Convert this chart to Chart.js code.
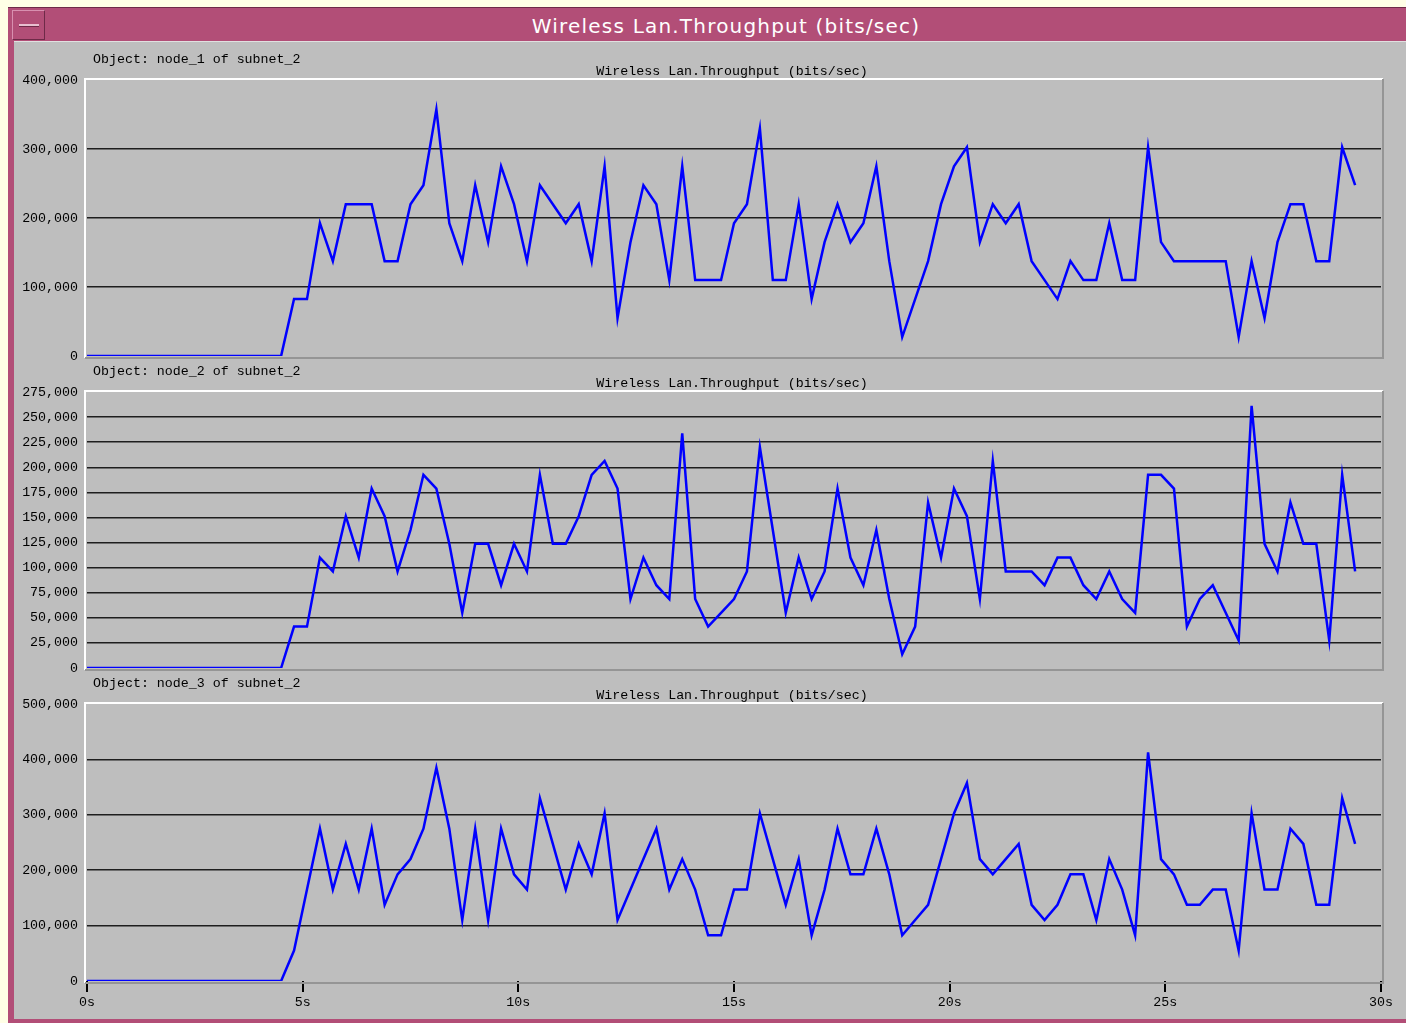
<!DOCTYPE html>
<html>
<head>
<meta charset="utf-8">
<title>Wireless Lan.Throughput (bits/sec)</title>
<script src="https://cdn.jsdelivr.net/npm/chart.js@4.4.1/dist/chart.umd.min.js"></script>
<style>
body { margin:0; width:1406px; height:1023px; overflow:hidden; background:#ffffe6; position:relative; }
#janela { position:absolute; left:8px; top:7px; width:1420px; height:1016px; background:#b24e77; border-top:1px solid #6e2a48; }
#conteudo { position:absolute; left:14px; top:41px; width:1392px; height:977px; background:#bebebe; border-top:1px solid #e0e0e0; }
#botao { position:absolute; left:12px; top:10px; width:31px; height:28px; border:1px solid #d890b0; border-right-color:#6e2a48; border-bottom-color:#6e2a48; }
#botao div { position:absolute; left:6px; top:13px; width:20px; height:2px; background:#e8bfd0; border-bottom:1px solid #6e2a48; }
#titulo { position:absolute; left:0; top:11px; width:1452px; height:30px; line-height:30px; text-align:center; color:#fff; font-family:'DejaVu Sans', sans-serif; font-size:20px; letter-spacing:1.2px; }
.texto { position:absolute; font-family:'Liberation Mono', monospace; font-size:13.3px; line-height:14px; color:#000; white-space:pre; }
.centro { left:0; width:1464px; text-align:center; }
canvas { position:absolute; left:0; }
</style>
</head>
<body>
<div id="janela"></div>
<div id="botao"><div></div></div>
<div id="titulo">Wireless Lan.Throughput (bits/sec)</div>
<div id="conteudo"></div>

<canvas id="graficoNode1" width="1406" height="310" style="top:63px"></canvas>
<canvas id="graficoNode2" width="1406" height="310" style="top:375px"></canvas>
<canvas id="graficoNode3" width="1406" height="326" style="top:687px"></canvas>

<div class="texto" style="left:93px; top:53px">Object: node_1 of subnet_2</div>
<div class="texto centro" style="top:65px">Wireless Lan.Throughput (bits/sec)</div>
<div class="texto" style="left:93px; top:365px">Object: node_2 of subnet_2</div>
<div class="texto centro" style="top:377px">Wireless Lan.Throughput (bits/sec)</div>
<div class="texto" style="left:93px; top:677px">Object: node_3 of subnet_2</div>
<div class="texto centro" style="top:689px">Wireless Lan.Throughput (bits/sec)</div>

<script>
const tempos = [
    0, 0.3, 0.6, 0.9, 1.2, 1.5, 1.8, 2.1, 2.4, 2.7,
    3.0, 3.3, 3.6, 3.9, 4.2, 4.5, 4.8, 5.1, 5.4, 5.7,
    6.0, 6.3, 6.6, 6.9, 7.2, 7.5, 7.8, 8.1, 8.4, 8.7,
    9.0, 9.3, 9.6, 9.9, 10.2, 10.5, 10.8, 11.1, 11.4, 11.7,
    12.0, 12.3, 12.6, 12.9, 13.2, 13.5, 13.8, 14.1, 14.4, 14.7,
    15.0, 15.3, 15.6, 15.9, 16.2, 16.5, 16.8, 17.1, 17.4, 17.7,
    18.0, 18.3, 18.6, 18.9, 19.2, 19.5, 19.8, 20.1, 20.4, 20.7,
    21.0, 21.3, 21.6, 21.9, 22.2, 22.5, 22.8, 23.1, 23.4, 23.7,
    24.0, 24.3, 24.6, 24.9, 25.2, 25.5, 25.8, 26.1, 26.4, 26.7,
    27.0, 27.3, 27.6, 27.9, 28.2, 28.5, 28.8, 29.1, 29.4
]

const node1 = [
    0, 0, 0, 0, 0, 0, 0, 0, 0, 0,
    0, 0, 0, 0, 0, 0, 82500, 82500, 192500, 137500,
    220000, 220000, 220000, 137500, 137500, 220000, 247500, 357500, 192500, 137500,
    247500, 165000, 275000, 220000, 137500, 247500, 220000, 192500, 220000, 137500,
    275000, 55000, 165000, 247500, 220000, 110000, 275000, 110000, 110000, 110000,
    192500, 220000, 330000, 110000, 110000, 220000, 82500, 165000, 220000, 165000,
    192500, 275000, 137500, 27500, 82500, 137500, 220000, 275000, 302500, 165000,
    220000, 192500, 220000, 137500, 110000, 82500, 137500, 110000, 110000, 192500,
    110000, 110000, 302500, 165000, 137500, 137500, 137500, 137500, 137500, 27500,
    137500, 55000, 165000, 220000, 220000, 137500, 137500, 302500, 247500
]

const node2 = [
    0, 0, 0, 0, 0, 0, 0, 0, 0, 0,
    0, 0, 0, 0, 0, 0, 41250, 41250, 110000, 96250,
    151250, 110000, 178750, 151250, 96250, 137500, 192500, 178750, 123750, 55000,
    123750, 123750, 82500, 123750, 96250, 192500, 123750, 123750, 151250, 192500,
    206250, 178750, 68750, 110000, 82500, 68750, 233750, 68750, 41250, 55000,
    68750, 96250, 220000, 137500, 55000, 110000, 68750, 96250, 178750, 110000,
    82500, 137500, 68750, 13750, 41250, 165000, 110000, 178750, 151250, 68750,
    206250, 96250, 96250, 96250, 82500, 110000, 110000, 82500, 68750, 96250,
    68750, 55000, 192500, 192500, 178750, 41250, 68750, 82500, 55000, 27500,
    261250, 123750, 96250, 165000, 123750, 123750, 27500, 192500, 96250
]

const node3 = [
    0, 0, 0, 0, 0, 0, 0, 0, 0, 0,
    0, 0, 0, 0, 0, 0, 55000, 165000, 275000, 165000,
    247500, 165000, 275000, 137500, 192500, 220000, 275000, 385000, 275000, 110000,
    275000, 110000, 275000, 192500, 165000, 330000, 247500, 165000, 247500, 192500,
    302500, 110000, 165000, 220000, 275000, 165000, 220000, 165000, 82500, 82500,
    165000, 165000, 302500, 220000, 137500, 220000, 82500, 165000, 275000, 192500,
    192500, 275000, 192500, 82500, 110000, 137500, 220000, 302500, 357500, 220000,
    192500, 220000, 247500, 137500, 110000, 137500, 192500, 192500, 110000, 220000,
    165000, 82500, 412500, 220000, 192500, 137500, 137500, 165000, 165000, 55000,
    302500, 165000, 165000, 275000, 247500, 137500, 137500, 330000, 247500
]

const ticksNode1 = [0, 100000, 200000, 300000, 400000]
const ticksNode2 = [0, 25000, 50000, 75000, 100000, 125000, 150000, 175000, 200000, 225000, 250000, 275000]
const ticksNode3 = [0, 100000, 200000, 300000, 400000, 500000]
const ticksTempo = [0, 5, 10, 15, 20, 25, 30]

const fonteMono = { family: "'Liberation Mono', monospace", size: 13.3 }

// moldura do plot: claro em cima/esquerda, escuro embaixo/direita
const bordaPlot = {
    id: 'bordaPlot',
    beforeDatasetsDraw(chart) {
        const a = chart.chartArea
        const ctx = chart.ctx
        ctx.save()
        ctx.lineWidth = 2
        ctx.strokeStyle = '#ffffff'
        ctx.beginPath()
        ctx.moveTo(a.left - 2, a.bottom + 2)
        ctx.lineTo(a.left - 2, a.top - 1)
        ctx.lineTo(a.right + 2, a.top - 1)
        ctx.stroke()
        ctx.strokeStyle = '#959595'
        ctx.beginPath()
        ctx.moveTo(a.right + 2, a.top - 1)
        ctx.lineTo(a.right + 2, a.bottom + 2)
        ctx.lineTo(a.left - 2, a.bottom + 2)
        ctx.stroke()
        ctx.restore()
    }
}

function criarGrafico(id, valores, ticksY, maximo, comEixoX) {
    new Chart(document.getElementById(id), {
        type: 'line',
        data: {
            datasets: [{
                data: tempos.map((t, i) => ({ x: t, y: valores[i] })),
                borderColor: '#0000ff',
                borderWidth: 2.5,
                pointRadius: 0,
                tension: 0,
                fill: false
            }]
        },
        options: {
            responsive: false,
            animation: false,
            layout: {
                padding: { top: 8, right: 25, bottom: comEixoX ? 0 : 8, left: 0 }
            },
            plugins: {
                legend: { display: false },
                tooltip: { enabled: false }
            },
            scales: {
                x: {
                    type: 'linear',
                    min: 0,
                    max: 30,
                    display: comEixoX,
                    afterBuildTicks: s => { s.ticks = ticksTempo.map(v => ({ value: v })) },
                    afterFit: s => { if (comEixoX) s.height = 32 },
                    border: { display: false },
                    grid: {
                        drawOnChartArea: false,
                        drawTicks: true,
                        tickLength: 11,
                        tickColor: '#000000',
                        lineWidth: 2
                    },
                    ticks: {
                        color: '#000000',
                        font: fonteMono,
                        padding: 2,
                        maxRotation: 0,
                        autoSkip: false,
                        callback: v => v + 's'
                    }
                },
                y: {
                    min: 0,
                    max: maximo,
                    afterBuildTicks: s => { s.ticks = ticksY.map(v => ({ value: v })) },
                    afterFit: s => { s.width = 87 },
                    border: { display: false },
                    grid: {
                        color: c => (c.tick.value === 0 || c.tick.value === maximo) ? 'rgba(0,0,0,0)' : '#1e1e1e',
                        lineWidth: 1.5,
                        drawTicks: false
                    },
                    ticks: {
                        color: '#000000',
                        font: fonteMono,
                        padding: 9,
                        autoSkip: false,
                        callback: v => v.toLocaleString('en-US')
                    }
                }
            }
        },
        plugins: [bordaPlot]
    })
}

criarGrafico('graficoNode1', node1, ticksNode1, 400000, false)
criarGrafico('graficoNode2', node2, ticksNode2, 275000, false)
criarGrafico('graficoNode3', node3, ticksNode3, 500000, true)
</script>
</body>
</html>
